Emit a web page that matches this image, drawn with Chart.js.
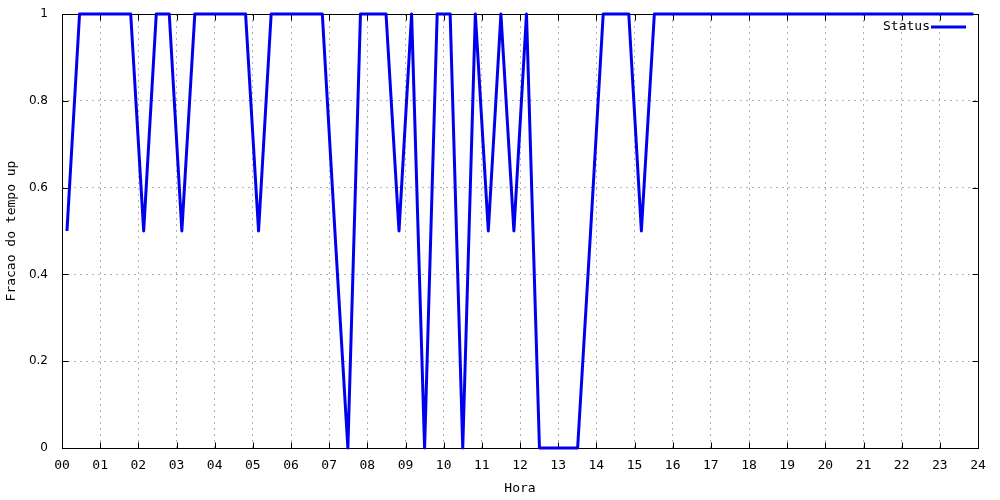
<!DOCTYPE html>
<html><head><meta charset="utf-8">
<script src="https://cdn.jsdelivr.net/npm/chart.js@4.4.0/dist/chart.umd.min.js"></script>
<style>html,body{margin:0;padding:0;background:#fff}#wrap{width:1000px;height:500px}</style>
</head><body><div id="wrap"><canvas id="c" width="1000" height="500"></canvas></div>
<script>
const hours = [0.13,0.46,0.80,1.13,1.47,1.80,2.14,2.47,2.81,3.14,3.48,3.81,4.14,4.48,4.81,5.15,5.48,5.82,6.15,6.49,6.82,7.15,7.49,7.82,8.16,8.49,8.83,9.16,9.50,9.83,10.17,10.50,10.83,11.17,11.50,11.84,12.17,12.51,12.84,13.18,13.51,13.85,14.18,14.51,14.85,15.18,15.52,15.85,16.19,16.52,16.86,17.19,17.52,17.86,18.19,18.53,18.86,19.20,19.53,19.87,20.20,20.53,20.87,21.20,21.54,21.87,22.21,22.54,22.88,23.21,23.55,23.88];
const status = [0.5,1,1,1,1,1,0.5,1,1,0.5,1,1,1,1,1,0.5,1,1,1,1,1,0.5,0,1,1,1,0.5,1,0,1,1,0,1,0.5,1,0.5,1,0,0,0,0,0.5,1,1,1,0.5,1,1,1,1,1,1,1,1,1,1,1,1,1,1,1,1,1,1,1,1,1,1,1,1,1,1];
const hourLabels = ['00','01','02','03','04','05','06','07','08','09','10','11','12','13','14','15','16','17','18','19','20','21','22','23','24'];
const yTickLabels = ['0','0.2','0.4','0.6','0.8','1'];
const seriesName = 'Status';
const xTitle = 'Hora';
const yTitle = 'Fracao do tempo up';

const FONT = 'DejaVu Sans Mono';
const LINE_COLOR = '#0000ee';

const gnuFrame = {
  id: 'gnuFrame',
  beforeDatasetsDraw(chart) {
    const {ctx, chartArea: a, scales: {x, y}} = chart;
    ctx.save();
    ctx.strokeStyle = '#000';
    ctx.lineWidth = 1;
    const L = Math.round(a.left) + 0.5, R = Math.round(a.right) + 0.5;
    const T = Math.round(a.top) + 0.5, B = Math.round(a.bottom) + 0.5;
    ctx.strokeRect(L, T, R - L, B - T);
    ctx.beginPath();
    x.ticks.forEach(t => {
      const px = Math.round(x.getPixelForValue(t.value)) + 0.5;
      ctx.moveTo(px, B); ctx.lineTo(px, B - 6);
      ctx.moveTo(px, T); ctx.lineTo(px, T + 6);
    });
    y.ticks.forEach(t => {
      const py = Math.round(y.getPixelForValue(t.value)) + 0.5;
      ctx.moveTo(L, py); ctx.lineTo(L + 6, py);
      ctx.moveTo(R, py); ctx.lineTo(R - 6, py);
    });
    ctx.stroke();
    ctx.restore();
  },
  afterDatasetsDraw(chart) {
    const {ctx} = chart;
    ctx.save();
    ctx.font = '13px "' + FONT + '"';
    ctx.fillStyle = '#000';
    ctx.textAlign = 'right';
    ctx.textBaseline = 'middle';
    ctx.fillText(chart.data.datasets[0].label, 930, 27);
    ctx.strokeStyle = LINE_COLOR;
    ctx.lineWidth = 3;
    ctx.beginPath();
    ctx.moveTo(931, 27); ctx.lineTo(966, 27);
    ctx.stroke();
    ctx.restore();
  }
};

new Chart(document.getElementById('c'), {
  type: 'line',
  data: {
    datasets: [{
      label: seriesName,
      data: hours.map((h, i) => ({x: h, y: status[i]})),
      borderColor: LINE_COLOR,
      borderWidth: 3,
      pointRadius: 0,
      tension: 0,
      fill: false,
      clip: false,
      borderJoinStyle: 'round'
    }]
  },
  options: {
    responsive: false,
    animation: false,
    devicePixelRatio: 1,
    layout: {padding: {top: 14, right: 22, left: 0, bottom: 0}},
    plugins: {legend: {display: false}, tooltip: {enabled: false}},
    scales: {
      x: {
        type: 'linear', min: 0, max: 24,
        afterFit(s) { s.height = 52; },
        ticks: {
          stepSize: 1, autoSkip: false, maxRotation: 0, padding: 10,
          color: '#000', font: {family: FONT, size: 13},
          callback: (v, i) => hourLabels[i]
        },
        grid: {color: '#b0b0b0', lineWidth: 1, drawTicks: false},
        border: {display: false, dash: [2, 4]},
        title: {display: true, text: xTitle, color: '#000', font: {family: FONT, size: 13}, padding: {top: 0, bottom: 4}}
      },
      y: {
        type: 'linear', min: 0, max: 1,
        afterFit(s) { s.width = 62; s.paddingTop = 0; },
        ticks: {
          stepSize: 0.2, padding: 14,
          color: '#000', font: {family: 'DejaVu Sans', size: 12},
          callback: (v, i) => yTickLabels[i]
        },
        grid: {color: '#b0b0b0', lineWidth: 1, drawTicks: false},
        border: {display: false, dash: [2, 4]},
        title: {display: true, text: yTitle, color: '#000', font: {family: FONT, size: 13}, padding: {top: 4, bottom: 0}}
      }
    }
  },
  plugins: [gnuFrame]
});
</script></body></html>
